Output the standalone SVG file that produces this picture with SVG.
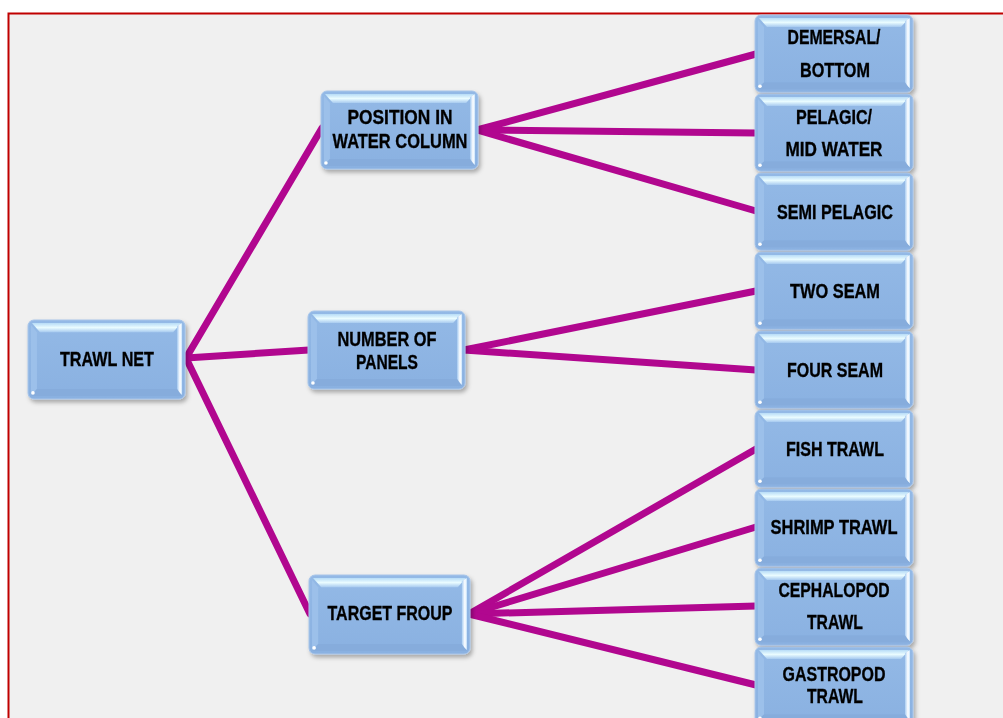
<svg xmlns="http://www.w3.org/2000/svg" xmlns:xlink="http://www.w3.org/1999/xlink" width="1003" height="718" viewBox="0 0 1003 718">
<style>
.lbl{font-family:"Liberation Sans Narrow","Liberation Sans",Arial,sans-serif;font-weight:bold;font-size:21px;fill:#000;stroke:#000;stroke-width:0.35;text-anchor:middle}
.con{stroke:#b1078f;stroke-width:7;stroke-linecap:round;fill:none}
</style>
<defs>
<linearGradient id="topB" x1="0" y1="0" x2="0" y2="1">
<stop offset="0" stop-color="#b7dcf7"/>
<stop offset="0.5" stop-color="#eafcff"/>
<stop offset="1" stop-color="#a8cbf0"/>
</linearGradient>
<linearGradient id="rightB" x1="0" y1="0" x2="1" y2="0">
<stop offset="0" stop-color="#a9cdf2"/>
<stop offset="0.6" stop-color="#ffffff"/>
<stop offset="1" stop-color="#c6e2fb"/>
</linearGradient>
<linearGradient id="body" x1="0" y1="0" x2="0" y2="1">
<stop offset="0" stop-color="#93b9e6"/>
<stop offset="1" stop-color="#8ab1e1"/>
</linearGradient>
<filter id="sh" x="-10%" y="-10%" width="125%" height="130%">
<feDropShadow dx="2" dy="3" stdDeviation="2" flood-color="#000" flood-opacity="0.3"/>
</filter>
<g id="btn">
<rect x="0" y="0" width="158" height="78" rx="6" fill="url(#body)" stroke="#a9c6ea" stroke-width="1"/>
<path d="M4,3 L154,3 L146,12 L12,12 Z" fill="url(#topB)"/>
<path d="M150,6 L155,3 L155,74 L150,70 Z" fill="url(#rightB)"/>
<path d="M3,5 L9,12 L9,68 L3,74 Z" fill="#9cc0ea"/>
<path d="M9,68 L150,68 L155,75 L3,75 Z" fill="#86acdc"/>
<circle cx="5" cy="72" r="1.8" fill="#ffffff"/>
</g>
</defs>
<rect x="0" y="0" width="1003" height="718" fill="#ffffff"/>
<rect x="8.5" y="13.5" width="1010" height="720" fill="#f0f0f0" stroke="#c00000" stroke-width="2"/>
<g id="connectors">
<line class="con" x1="186" y1="358" x2="322" y2="128"/>
<line class="con" x1="186" y1="358" x2="309" y2="350"/>
<line class="con" x1="186" y1="358" x2="310" y2="614"/>
<line class="con" x1="477" y1="130" x2="756" y2="54"/>
<line class="con" x1="477" y1="130" x2="756" y2="133"/>
<line class="con" x1="477" y1="130" x2="756" y2="211"/>
<line class="con" x1="464" y1="350" x2="756" y2="291"/>
<line class="con" x1="464" y1="350" x2="756" y2="370"/>
<line class="con" x1="469" y1="614" x2="756" y2="449"/>
<line class="con" x1="469" y1="614" x2="756" y2="527"/>
<line class="con" x1="469" y1="614" x2="756" y2="606"/>
<line class="con" x1="469" y1="614" x2="756" y2="685"/>
</g>
<g id="n-trawl-net" filter="url(#sh)">
<use xlink:href="#btn" transform="translate(28,320) scale(0.994,1.013)"/>
<text class="lbl" x="107" y="366" textLength="94" lengthAdjust="spacingAndGlyphs">TRAWL NET</text>
</g>
<g id="n-position" filter="url(#sh)">
<use xlink:href="#btn" transform="translate(321,91) scale(0.994,1.0)"/>
<text class="lbl" x="400" y="124" textLength="105" lengthAdjust="spacingAndGlyphs">POSITION IN</text>
<text class="lbl" x="400" y="148" textLength="135" lengthAdjust="spacingAndGlyphs">WATER COLUMN</text>
</g>
<g id="n-panels" filter="url(#sh)">
<use xlink:href="#btn" transform="translate(308,311) scale(0.994,1.0)"/>
<text class="lbl" x="387" y="346" textLength="99" lengthAdjust="spacingAndGlyphs">NUMBER OF</text>
<text class="lbl" x="387" y="369" textLength="62" lengthAdjust="spacingAndGlyphs">PANELS</text>
</g>
<g id="n-target" filter="url(#sh)">
<use xlink:href="#btn" transform="translate(309,575) scale(1.019,1.013)"/>
<text class="lbl" x="390" y="620" textLength="125" lengthAdjust="spacingAndGlyphs">TARGET FROUP</text>
</g>
<g id="n-demersal" filter="url(#sh)">
<use xlink:href="#btn" transform="translate(755,15) scale(1,0.99)"/>
<text class="lbl" x="834" y="44" textLength="93" lengthAdjust="spacingAndGlyphs">DEMERSAL/</text>
<text class="lbl" x="835" y="77" textLength="70" lengthAdjust="spacingAndGlyphs">BOTTOM</text>
</g>
<g id="n-pelagic" filter="url(#sh)">
<use xlink:href="#btn" transform="translate(755,94) scale(1,0.99)"/>
<text class="lbl" x="834" y="124" textLength="76" lengthAdjust="spacingAndGlyphs">PELAGIC/</text>
<text class="lbl" x="834" y="156" textLength="97" lengthAdjust="spacingAndGlyphs">MID WATER</text>
</g>
<g id="n-semi" filter="url(#sh)">
<use xlink:href="#btn" transform="translate(755,173) scale(1,0.99)"/>
<text class="lbl" x="835" y="219" textLength="116" lengthAdjust="spacingAndGlyphs">SEMI PELAGIC</text>
</g>
<g id="n-two-seam" filter="url(#sh)">
<use xlink:href="#btn" transform="translate(755,252) scale(1,0.99)"/>
<text class="lbl" x="835" y="298" textLength="90" lengthAdjust="spacingAndGlyphs">TWO SEAM</text>
</g>
<g id="n-four-seam" filter="url(#sh)">
<use xlink:href="#btn" transform="translate(755,331) scale(1,0.99)"/>
<text class="lbl" x="835" y="377" textLength="96" lengthAdjust="spacingAndGlyphs">FOUR SEAM</text>
</g>
<g id="n-fish" filter="url(#sh)">
<use xlink:href="#btn" transform="translate(755,410) scale(1,0.99)"/>
<text class="lbl" x="835" y="456" textLength="98" lengthAdjust="spacingAndGlyphs">FISH TRAWL</text>
</g>
<g id="n-shrimp" filter="url(#sh)">
<use xlink:href="#btn" transform="translate(755,489) scale(1,0.99)"/>
<text class="lbl" x="834" y="534" textLength="127" lengthAdjust="spacingAndGlyphs">SHRIMP TRAWL</text>
</g>
<g id="n-cephalopod" filter="url(#sh)">
<use xlink:href="#btn" transform="translate(755,568) scale(1,0.99)"/>
<text class="lbl" x="834" y="597" textLength="111" lengthAdjust="spacingAndGlyphs">CEPHALOPOD</text>
<text class="lbl" x="835" y="629" textLength="56" lengthAdjust="spacingAndGlyphs">TRAWL</text>
</g>
<g id="n-gastropod" filter="url(#sh)">
<use xlink:href="#btn" transform="translate(755,647) scale(1,0.99)"/>
<text class="lbl" x="834" y="681" textLength="103" lengthAdjust="spacingAndGlyphs">GASTROPOD</text>
<text class="lbl" x="835" y="703" textLength="56" lengthAdjust="spacingAndGlyphs">TRAWL</text>
</g>
</svg>
